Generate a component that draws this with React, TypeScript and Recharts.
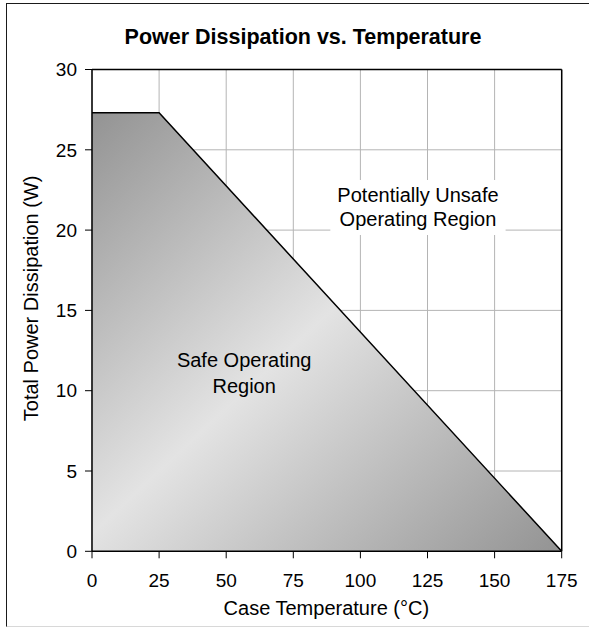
import React from 'react';
import {
  ComposedChart,
  Area,
  XAxis,
  YAxis,
  CartesianGrid,
  ReferenceLine,
  ReferenceArea,
  Label,
} from 'recharts';

const temperatures = [0, 25, 175];
const powers = [27.3, 27.3, 0];
const xTicks = [0, 25, 50, 75, 100, 125, 150, 175];
const yTicks = [0, 5, 10, 15, 20, 25, 30];

const data = temperatures.map((t, i) => ({ t, p: powers[i] }));

const FONT = '"Liberation Sans", Arial, sans-serif';

const TwoLines = (props: any) => {
  const { viewBox, lines, d1, d2 } = props;
  if (!viewBox) return null;
  const cx = viewBox.x + viewBox.width / 2;
  const cy = viewBox.y + viewBox.height / 2;
  return (
    <g>
      <text x={cx} y={cy + d1} textAnchor="middle" dominantBaseline="central" fontFamily={FONT} fontSize={20} fill="#000">
        {lines[0]}
      </text>
      <text x={cx} y={cy + d2} textAnchor="middle" dominantBaseline="central" fontFamily={FONT} fontSize={20} fill="#000">
        {lines[1]}
      </text>
    </g>
  );
};

const YLabel = (props: any) => {
  const { viewBox } = props;
  if (!viewBox) return null;
  const cx = 31;
  const cy = viewBox.y + viewBox.height / 2 - 12;
  return (
    <text
      x={cx}
      y={cy}
      transform={`rotate(-90, ${cx}, ${cy})`}
      textAnchor="middle"
      dominantBaseline="central"
      fontFamily={FONT}
      fontSize={20}
      fill="#000"
    >
      Total Power Dissipation (W)
    </text>
  );
};

const XLabel = (props: any) => {
  const { viewBox } = props;
  if (!viewBox) return null;
  const cx = viewBox.x + viewBox.width / 2 - 0.5;
  const cy = 608;
  return (
    <text x={cx} y={cy} textAnchor="middle" dominantBaseline="central" fontFamily={FONT} fontSize={20} fill="#000">
      Case Temperature (°C)
    </text>
  );
};

export default function App() {
  return (
    <div
      style={{
        position: 'absolute',
        left: 0,
        top: 0,
        width: 589,
        height: 628,
        overflow: 'hidden',
        background: '#fff',
      }}
    >
      <div
        style={{
          position: 'absolute',
          left: 6,
          top: 3,
          width: 700,
          height: 622,
          borderLeft: '1.5px solid #1a1a1a',
          borderTop: '1.5px solid #1a1a1a',
          borderBottom: '1.5px solid #d8d8d8',
        }}
      />
      <div
        style={{
          position: 'absolute',
          left: 0,
          top: 25,
          width: 606,
          lineHeight: '24px',
          textAlign: 'center',
          fontFamily: FONT,
          fontWeight: 'bold',
          fontSize: 21.5,
          color: '#000',
        }}
      >
        Power Dissipation vs. Temperature
      </div>
      <div style={{ position: 'absolute', left: 0, top: 0 }}>
        <ComposedChart
          width={589}
          height={628}
          data={data}
          margin={{ top: 69.5, right: 27.3, bottom: 46.7, left: 0 }}
        >
          <defs>
            <linearGradient id="safeGrad" x1="0" y1="0" x2="1" y2="1">
              <stop offset="0%" stopColor="#939393" />
              <stop offset="48%" stopColor="#e3e3e3" />
              <stop offset="100%" stopColor="#939393" />
            </linearGradient>
          </defs>
          <CartesianGrid stroke="#b4b4b4" strokeWidth={1} />
          <XAxis
            dataKey="t"
            type="number"
            domain={[0, 175]}
            ticks={xTicks}
            interval={0}
            height={30}
            tickSize={7}
            tickMargin={15.6}
            axisLine={{ stroke: '#000', strokeWidth: 1.5 }}
            tickLine={{ stroke: '#000', strokeWidth: 1 }}
            tick={{ fill: '#000', fontSize: 19, fontFamily: FONT }}
          >
            <Label content={<XLabel />} />
          </XAxis>
          <YAxis
            type="number"
            domain={[0, 30]}
            ticks={yTicks}
            interval={0}
            width={92}
            tickSize={7}
            tickMargin={8}
            axisLine={{ stroke: '#000', strokeWidth: 1.5 }}
            tickLine={{ stroke: '#000', strokeWidth: 1 }}
            tick={{ fill: '#000', fontSize: 19, fontFamily: FONT }}
          >
            <Label content={<YLabel />} />
          </YAxis>
          <Area
            type="linear"
            dataKey="p"
            fill="url(#safeGrad)"
            fillOpacity={1}
            stroke="#000"
            strokeWidth={1.5}
            isAnimationActive={false}
            dot={false}
            activeDot={false}
          />
          <ReferenceLine y={30} stroke="#000" strokeWidth={1.5} />
          <ReferenceLine x={175} stroke="#000" strokeWidth={1.5} />
          <ReferenceArea
            x1={88.8}
            x2={154.1}
            y1={19.7}
            y2={23.12}
            fill="#fff"
            fillOpacity={1}
            stroke="none"
            label={<TwoLines lines={['Potentially Unsafe', 'Operating Region']} d1={-12.5} d2={11.5} />}
          />
          <ReferenceArea
            x1={17.9}
            x2={95.5}
            y1={9.43}
            y2={12.85}
            fill="none"
            fillOpacity={0}
            stroke="none"
            label={<TwoLines lines={['Safe Operating', 'Region']} d1={-12.5} d2={14} />}
          />
        </ComposedChart>
      </div>
    </div>
  );
}
